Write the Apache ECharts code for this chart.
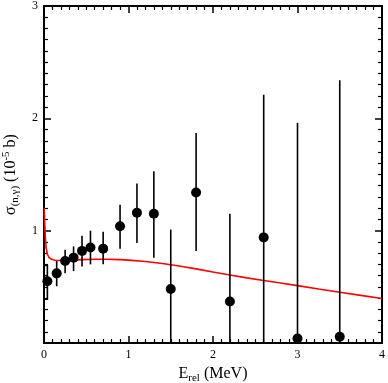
<!DOCTYPE html>
<html>
<head>
<meta charset="utf-8">
<script src="https://cdn.jsdelivr.net/npm/echarts@6/dist/echarts.min.js"></script>
<style>
  html, body { margin: 0; padding: 0; background: #fff; }
  #chart { width: 388px; height: 383px; }
</style>
</head>
<body>
<div id="chart"></div>
<script>
// measured points
var energy = [0.04, 0.15, 0.25, 0.35, 0.45, 0.55, 0.70, 0.90, 1.10, 1.30, 1.50, 1.80, 2.20, 2.60, 3.00, 3.50];
var sigma  = [0.55, 0.62, 0.73, 0.76, 0.82, 0.85, 0.84, 1.04, 1.16, 1.15, 0.48, 1.34, 0.37, 0.94, 0.04, 0.055];
var errLow = [0.39, 0.505, 0.62, 0.64, 0.68, 0.70, 0.70, 0.84, 0.89, 0.76, 0, 0.82, 0, 0, 0, 0];
var errHigh = [0.69, 0.73, 0.83, 0.86, 0.955, 1.0, 0.99, 1.23, 1.42, 1.53, 1.01, 1.87, 1.15, 2.21, 1.96, 2.34];

// first point's error is drawn as a box from E=0
var boxLeft = 0;

// calculation (red curve)
var curveE = [0.003, 0.008, 0.015, 0.025, 0.04, 0.06, 0.09, 0.13, 0.2, 0.3, 0.45, 0.6, 0.75, 0.9, 1.0,
              1.2, 1.4, 1.6, 1.8, 2.0, 2.2, 2.4, 2.6, 2.8, 3.0, 3.25, 3.5, 3.75, 4.0];
var curveS = [1.2, 1.08, 0.95, 0.85, 0.79, 0.76, 0.745, 0.737, 0.735, 0.738, 0.742, 0.745, 0.745, 0.742, 0.738,
              0.725, 0.708, 0.686, 0.66, 0.632, 0.605, 0.58, 0.557, 0.534, 0.511, 0.481, 0.452, 0.424, 0.396];

var xTicks = [0, 1, 2, 3, 4];
var yTicks = [1, 2, 3];

var font = 'Liberation Serif';

var chart = echarts.init(document.getElementById('chart'));

function axisCommon() {
    return {
        type: 'value',
        axisLine: { show: true, onZero: false, lineStyle: { color: '#000', width: 2 } },
        axisTick: { show: true, inside: true, length: 7, lineStyle: { color: '#000', width: 1.5 } },
        minorTick: { show: true, splitNumber: 10, length: 4, lineStyle: { color: '#000', width: 1.2 } },
        splitLine: { show: false },
        minorSplitLine: { show: false }
    };
}

var xBottom = Object.assign(axisCommon(), {
    min: 0, max: 4, interval: 1, position: 'bottom',
    name: '{a|E}{s|rel}{a| (MeV)}',
    nameLocation: 'middle', nameGap: 13,
    nameTextStyle: {
        fontFamily: font, color: '#000',
        rich: {
            a: { fontFamily: font, fontSize: 16, color: '#000' },
            s: { fontFamily: font, fontSize: 11, color: '#000', padding: [9, 0, 0, 0] }
        }
    },
    axisLabel: {
        fontFamily: font, fontSize: 12, color: '#000', margin: 6,
        formatter: function (v) { return xTicks.indexOf(v) >= 0 ? String(v) : ''; }
    }
});
var xTop = Object.assign(axisCommon(), {
    min: 0, max: 4, interval: 1, position: 'top',
    axisLabel: { show: false }
});
var yLeft = Object.assign(axisCommon(), {
    min: 0, max: 3, interval: 1, position: 'left',
    name: '{a|σ}{s|(n,γ)}{a| (10}{p|-5}{a| b)}',
    nameLocation: 'middle', nameGap: 20, nameRotate: 90,
    nameTextStyle: {
        fontFamily: font, color: '#000',
        rich: {
            a: { fontFamily: font, fontSize: 16, color: '#000' },
            s: { fontFamily: font, fontSize: 11, color: '#000', padding: [9, 0, 0, 0] },
            p: { fontFamily: font, fontSize: 11, color: '#000', padding: [0, 0, 9, 0] }
        }
    },
    axisLabel: {
        fontFamily: font, fontSize: 12, color: '#000', margin: 6,
        formatter: function (v) { return yTicks.indexOf(v) >= 0 ? String(v) : ''; }
    }
});
var yRight = Object.assign(axisCommon(), {
    min: 0, max: 3, interval: 1, position: 'right',
    axisLabel: { show: false }
});

var points = energy.map(function (e, i) { return [e, sigma[i]]; });
var bars = energy.map(function (e, i) { return [e, errLow[i], errHigh[i]]; });
var curve = curveE.map(function (e, i) { return [e, curveS[i]]; });

var option = {
    animation: false,
    backgroundColor: '#fff',
    grid: { left: 44, right: 6, top: 6, bottom: 40, containLabel: false, outerBoundsMode: 'none' },
    xAxis: [xBottom, xTop],
    yAxis: [yLeft, yRight],
    series: [
        {
            type: 'custom',
            xAxisIndex: 0, yAxisIndex: 0,
            data: bars.slice(1),
            renderItem: function (params, api) {
                var p1 = api.coord([api.value(0), api.value(1)]);
                var p2 = api.coord([api.value(0), api.value(2)]);
                return {
                    type: 'line',
                    shape: { x1: p1[0], y1: p1[1], x2: p2[0], y2: p2[1] },
                    style: { stroke: '#000', lineWidth: 1.6 }
                };
            },
            z: 3
        },
        {
            type: 'custom',
            xAxisIndex: 0, yAxisIndex: 0,
            data: [[boxLeft, energy[0], errLow[0], errHigh[0]]],
            renderItem: function (params, api) {
                var a = api.coord([api.value(0), api.value(3)]);
                var b = api.coord([api.value(1), api.value(2)]);
                return {
                    type: 'rect',
                    shape: { x: a[0], y: a[1], width: b[0] - a[0], height: b[1] - a[1] },
                    style: { stroke: '#000', fill: 'none', lineWidth: 1.6 }
                };
            },
            z: 3
        },
        {
            type: 'line',
            xAxisIndex: 0, yAxisIndex: 0,
            data: curve,
            showSymbol: false,
            smooth: false,
            lineStyle: { color: '#ff0000', width: 1.6 },
            z: 2
        },
        {
            type: 'scatter',
            xAxisIndex: 0, yAxisIndex: 0,
            data: points,
            symbol: 'circle',
            symbolSize: 10,
            itemStyle: { color: '#000', opacity: 1 },
            z: 4
        }
    ]
};

chart.setOption(option);
</script>
</body>
</html>
